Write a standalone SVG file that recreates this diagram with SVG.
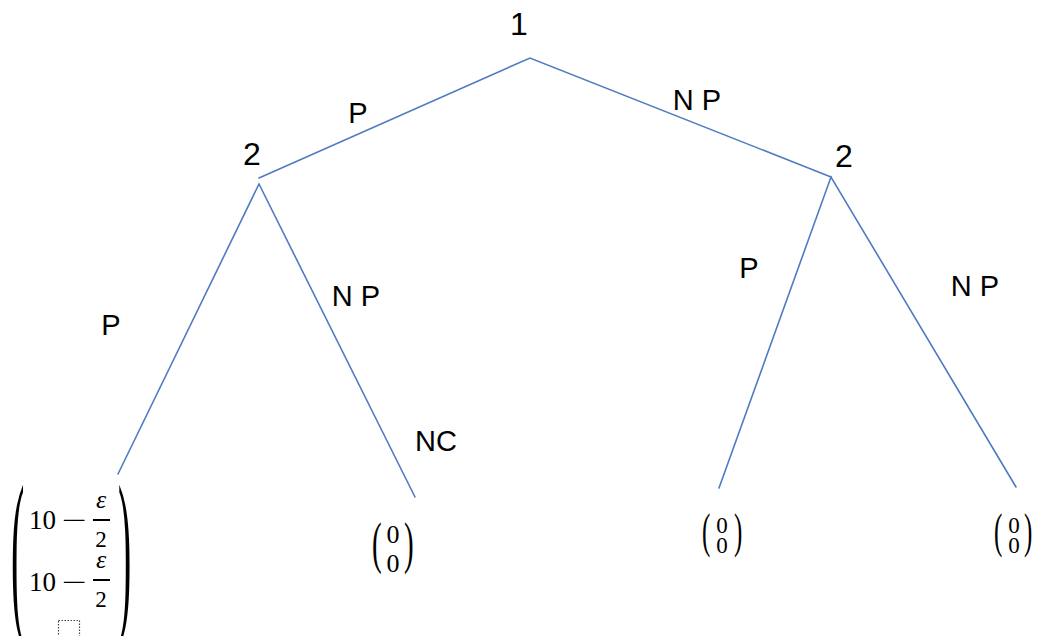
<svg xmlns="http://www.w3.org/2000/svg" width="1043" height="636" viewBox="0 0 1043 636">
<style>
.edge{stroke:#4F7BC2;stroke-width:1.6;fill:none;stroke-linecap:round}
.lbl{font-family:"Liberation Sans",Arial,sans-serif;font-size:29px;fill:#000}
.num{font-family:"Liberation Sans",Arial,sans-serif;font-size:32px;fill:#000}
.m{font-family:"Liberation Serif","Times New Roman",serif;fill:#000}
.mi{font-family:"Liberation Serif","Times New Roman",serif;font-style:italic;fill:#000}
</style>
<rect width="1043" height="636" fill="#fff"/>
<g id="connectors">
<polyline class="edge" points="259,178 530,58 831,177"/>
<polyline class="edge" points="118,474 259,184 415,497"/>
<polyline class="edge" points="719,488 831,177 1016,487"/>
</g>
<g id="node-1"><text class="num" x="519" y="35" text-anchor="middle">1</text></g>
<g id="node-2-left"><text class="num" x="252" y="165" text-anchor="middle">2</text></g>
<g id="node-2-right"><text class="num" x="844" y="167" text-anchor="middle">2</text></g>
<g id="edge-labels">
<text class="lbl" x="358" y="123" text-anchor="middle">P</text>
<text class="lbl" x="697" y="110" text-anchor="middle">N P</text>
<text class="lbl" x="111" y="335" text-anchor="middle">P</text>
<text class="lbl" x="356" y="306" text-anchor="middle">N P</text>
<text class="lbl" x="436" y="451" text-anchor="middle">NC</text>
<text class="lbl" x="749" y="278" text-anchor="middle">P</text>
<text class="lbl" x="975" y="296" text-anchor="middle">N P</text>
</g>
<g id="leaf-PP">
<text class="m" font-size="40" transform="translate(11,610) scale(1,4.5)">(</text>
<text class="m" font-size="40" transform="translate(118,610) scale(1,4.5)">)</text>
<text class="m" font-size="27" x="29" y="529">10</text>
<text class="m" font-size="26" x="62" y="529" textLength="25" lengthAdjust="spacingAndGlyphs">−</text>
<text class="mi" font-size="26" x="101" y="508" text-anchor="middle">ε</text>
<line x1="93" y1="520" x2="110" y2="520" stroke="#000" stroke-width="2"/>
<text class="m" font-size="23" x="101" y="547" text-anchor="middle">2</text>
<text class="m" font-size="27" x="29" y="591">10</text>
<text class="m" font-size="26" x="62" y="591" textLength="25" lengthAdjust="spacingAndGlyphs">−</text>
<text class="mi" font-size="26" x="101" y="568" text-anchor="middle">ε</text>
<line x1="93" y1="580" x2="110" y2="580" stroke="#000" stroke-width="2"/>
<text class="m" font-size="23" x="101" y="607" text-anchor="middle">2</text>
<rect x="58.5" y="620.5" width="21" height="16" fill="none" stroke="#444" stroke-width="1.2" stroke-dasharray="1.5,1.5"/>
</g>
<g id="leaf-PNP">
<text class="m" font-size="29" transform="translate(372,562) scale(1,2)">(</text>
<text class="m" font-size="29" transform="translate(404,562) scale(1,2)">)</text>
<text class="m" font-size="26" x="393" y="543" text-anchor="middle">0</text>
<text class="m" font-size="26" x="393" y="572" text-anchor="middle">0</text>
</g>
<g id="leaf-NPP">
<text class="m" font-size="25" transform="translate(702,547) scale(1,1.95)">(</text>
<text class="m" font-size="25" transform="translate(734,547) scale(1,1.95)">)</text>
<text class="m" font-size="23" x="722" y="533" text-anchor="middle">0</text>
<text class="m" font-size="23" x="722" y="553" text-anchor="middle">0</text>
</g>
<g id="leaf-NPNP">
<text class="m" font-size="25" transform="translate(994,547) scale(1,1.95)">(</text>
<text class="m" font-size="25" transform="translate(1024,547) scale(1,1.95)">)</text>
<text class="m" font-size="23" x="1014" y="533" text-anchor="middle">0</text>
<text class="m" font-size="23" x="1014" y="553" text-anchor="middle">0</text>
</g>
</svg>
